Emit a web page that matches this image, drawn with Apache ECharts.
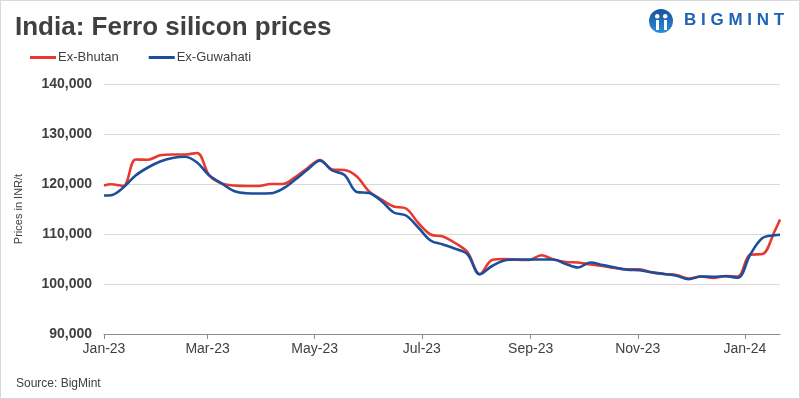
<!DOCTYPE html>
<html>
<head>
<meta charset="utf-8">
<script src="https://cdn.jsdelivr.net/npm/echarts@6/dist/echarts.min.js"></script>
<style>
  html, body { margin: 0; padding: 0; background: #fff; }
  #chart { width: 798px; height: 397px; border: 1px solid #d9d9d9; }
</style>
</head>
<body>
<div id="chart"></div>
<script>
// weekly price points (INR/t)
const dates = [
  '2023-01-01', '2023-01-05', '2023-01-12', '2023-01-19', '2023-01-26', '2023-02-02', '2023-02-09',
  '2023-02-16', '2023-02-23', '2023-03-02', '2023-03-09', '2023-03-16', '2023-03-23', '2023-03-30',
  '2023-04-06', '2023-04-13', '2023-04-20', '2023-04-27', '2023-05-04', '2023-05-11', '2023-05-18',
  '2023-05-25', '2023-06-01', '2023-06-08', '2023-06-15', '2023-06-22', '2023-06-29', '2023-07-06',
  '2023-07-13', '2023-07-20', '2023-07-27', '2023-08-03', '2023-08-10', '2023-08-17', '2023-08-24',
  '2023-08-31', '2023-09-07', '2023-09-14', '2023-09-21', '2023-09-28', '2023-10-05', '2023-10-12',
  '2023-10-19', '2023-10-26', '2023-11-02', '2023-11-09', '2023-11-16', '2023-11-23', '2023-11-30',
  '2023-12-07', '2023-12-14', '2023-12-21', '2023-12-28', '2024-01-04', '2024-01-11', '2024-01-18',
  '2024-01-21'
];
const exBhutan = [
  119700, 119950, 119600, 124900, 124850, 125750, 125900,
  125900, 126200, 121700, 120100, 119700, 119600, 119600,
  120000, 120000, 121400, 123200, 124800, 122900, 122800,
  121500, 118500, 116900, 115500, 115100, 112200, 109900,
  109500, 108200, 106400, 101950, 104800, 105000, 104850,
  104800, 105750, 104900, 104400, 104300, 103900, 103600,
  103200, 102950, 102950, 102300, 102000, 101800, 101100,
  101500, 101200, 101600, 101500, 105850, 106000, 110600,
  112900
];
const exGuwahati = [
  117700, 117750, 119300, 121700, 123300, 124500, 125200,
  125450, 124300, 121700, 120100, 118600, 118150, 118100,
  118150, 119100, 120900, 122900, 124650, 122700, 121800,
  118400, 118200, 116600, 114300, 113700, 111300, 108700,
  107900, 107050, 105950, 101950, 103600, 104700, 104900,
  104900, 104900, 104900, 104000, 103300, 104300, 103800,
  103300, 102850, 102750, 102350, 102000, 101650, 100950,
  101500, 101450, 101550, 101250, 105850, 109200, 109750,
  109850
];
const tickDates = ['2023-01-01', '2023-03-01', '2023-05-01', '2023-07-01', '2023-09-01', '2023-11-01', '2024-01-01'];
const tickLabels = ['Jan-23', 'Mar-23', 'May-23', 'Jul-23', 'Sep-23', 'Nov-23', 'Jan-24'];

const dayMs = 24 * 3600 * 1000;
const origin = Date.UTC(2023, 0, 1);
const toDay = (s) => {
  const [y, m, d] = s.split('-').map(Number);
  return Math.round((Date.UTC(y, m - 1, d) - origin) / dayMs);
};
const days = dates.map(toDay);
const tickDays = tickDates.map(toDay);

const chart = echarts.init(document.getElementById('chart'));

const narrow = "'Liberation Sans Narrow', 'Arial Narrow', 'Liberation Sans', Arial, sans-serif";

const option = {
  animation: false,
  textStyle: { fontFamily: "'Liberation Sans', Arial, sans-serif" },
  title: {
    text: 'India: Ferro silicon prices',
    left: 9, top: 9,
    textStyle: { fontSize: 26, fontWeight: 'bold', color: '#404040', fontFamily: "'Liberation Sans', Arial, sans-serif" }
  },
  legend: {
    left: 24, top: 45,
    itemWidth: 26, itemHeight: 3, itemGap: 30,
    icon: 'rect',
    textStyle: { fontSize: 13, color: '#404040', padding: [0, 0, 0, -3] },
    data: ['Ex-Bhutan', 'Ex-Guwahati']
  },
  graphic: [
    {
      type: 'circle', left: 648, top: 8,
      shape: { r: 12 },
      style: {
        fill: new echarts.graphic.LinearGradient(0, 0, 0, 1, [
          { offset: 0, color: '#1b4f9c' }, { offset: 1, color: '#2a8fd8' }
        ])
      }
    },
    { type: 'circle', left: 654, top: 13, shape: { r: 2.2 }, style: { fill: '#fff' } },
    { type: 'circle', left: 662, top: 13, shape: { r: 2.2 }, style: { fill: '#fff' } },
    { type: 'rect', left: 655, top: 19, shape: { width: 3, height: 10 }, style: { fill: '#fff' } },
    { type: 'rect', left: 663, top: 19, shape: { width: 3, height: 10 }, style: { fill: '#fff' } },
    {
      type: 'text', left: 683, top: 11,
      style: {
        text: 'B I G M I N T', fontSize: 17, fontWeight: 'bold',
        fill: '#1e63b5', fontFamily: "'Liberation Sans', Arial, sans-serif"
      }
    },
    {
      type: 'text', left: 15, top: 377,
      style: { text: 'Source: BigMint', fontSize: 12, fill: '#404040', fontFamily: narrow }
    }
  ],
  grid: { left: 103, right: 19, top: 83, bottom: 64 },
  xAxis: {
    type: 'value',
    min: 0, max: 385,
    axisLine: { show: true, lineStyle: { color: '#8c8c8c', width: 1 } },
    axisTick: { show: true, length: 5, lineStyle: { color: '#8c8c8c' }, customValues: tickDays },
    splitLine: { show: false },
    axisLabel: {
      customValues: tickDays,
      margin: 8,
      fontSize: 14, color: '#404040', fontFamily: narrow,
      formatter: (v) => tickLabels[tickDays.indexOf(v)] || ''
    }
  },
  yAxis: {
    type: 'value',
    min: 90000, max: 140000, interval: 10000,
    name: 'Prices in INR/t',
    nameLocation: 'middle',
    nameGap: 80,
    nameTextStyle: { fontSize: 11, color: '#404040' },
    axisLine: { show: false },
    axisTick: { show: false },
    splitLine: { lineStyle: { color: '#d9d9d9', width: 1 } },
    axisLabel: {
      margin: 12,
      fontSize: 14, fontWeight: 'bold', color: '#404040', fontFamily: narrow,
      formatter: (v) => v.toLocaleString('en-US')
    }
  },
  series: [
    {
      name: 'Ex-Bhutan', type: 'line',
      data: days.map((d, i) => [d, exBhutan[i]]),
      smooth: 0.35, showSymbol: false,
      itemStyle: { color: '#e8392f' },
      lineStyle: { width: 2.6, color: '#e8392f' }
    },
    {
      name: 'Ex-Guwahati', type: 'line',
      data: days.map((d, i) => [d, exGuwahati[i]]),
      smooth: 0.35, showSymbol: false,
      itemStyle: { color: '#1b4f9c' },
      lineStyle: { width: 2.6, color: '#1b4f9c' }
    }
  ]
};
chart.setOption(option);
</script>
</body>
</html>
